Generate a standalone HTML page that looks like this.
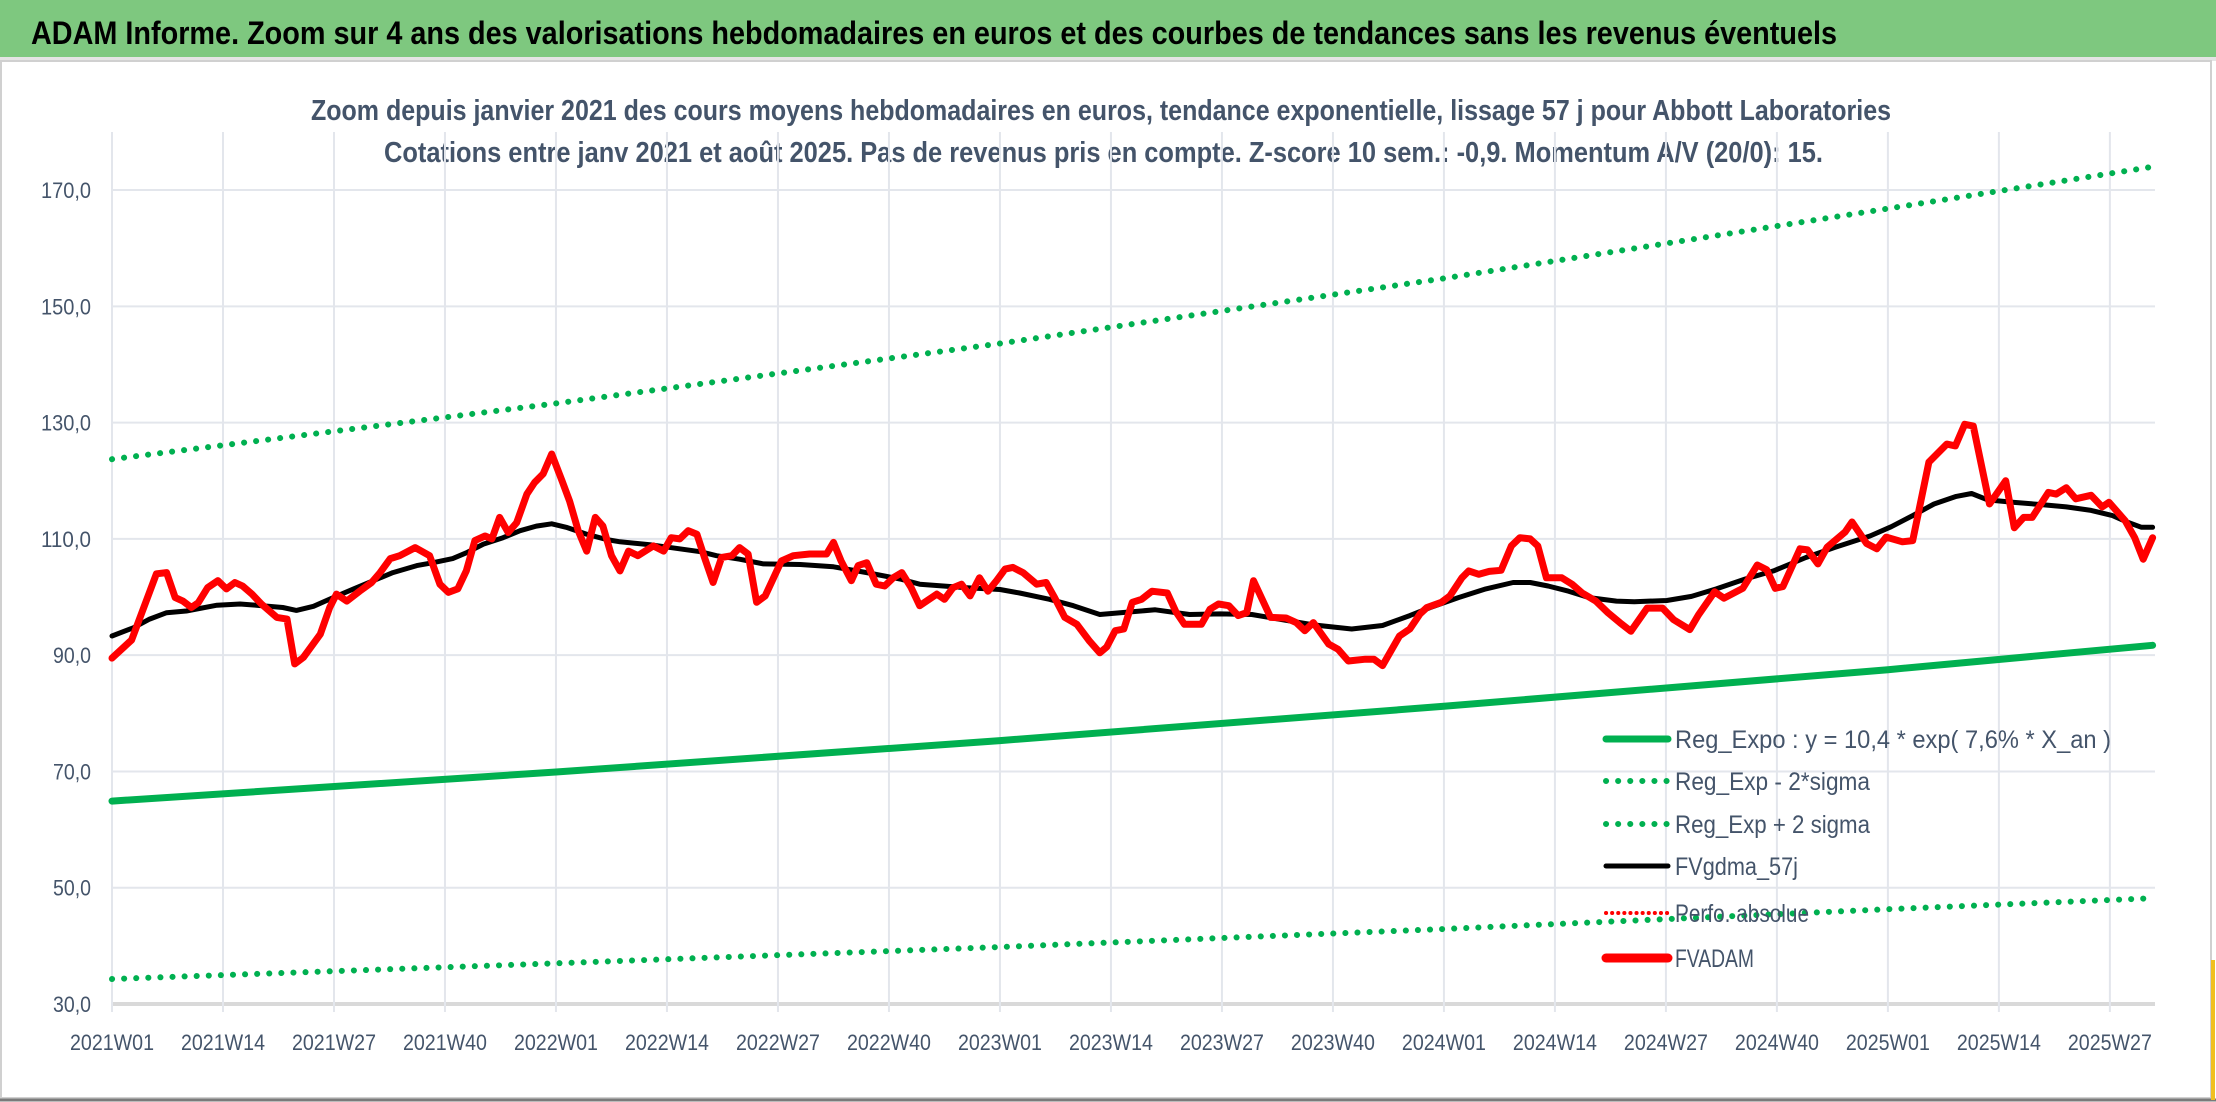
<!DOCTYPE html>
<html><head><meta charset="utf-8"><style>
html,body{margin:0;padding:0;background:#fff;}
svg{display:block;font-family:"Liberation Sans",sans-serif;}
</style></head><body>
<svg id="chart" width="2216" height="1102" viewBox="0 0 2216 1102" xmlns="http://www.w3.org/2000/svg">
<rect x="0" y="0" width="2216" height="1102" fill="#ffffff"/>
<rect x="0" y="0" width="2216" height="57" fill="#7ec87f"/>
<rect x="0" y="57" width="2216" height="4" fill="#e4e4e4"/>
<text x="31" y="44" font-size="32" font-weight="bold" fill="#000" textLength="1806" lengthAdjust="spacingAndGlyphs">ADAM Informe. Zoom sur 4 ans des valorisations hebdomadaires en euros et des courbes de tendances sans les revenus éventuels</text>
<rect x="1" y="61" width="2210" height="1037" fill="none" stroke="#d0d0d0" stroke-width="2"/>
<line x1="0" y1="1100" x2="2216" y2="1100" stroke="#7a7a7a" stroke-width="3"/>
<line x1="2213" y1="960" x2="2213" y2="1100" stroke="#f0c020" stroke-width="4"/>
<text x="311" y="120" font-size="29" font-weight="bold" fill="#44546a" textLength="1580" lengthAdjust="spacingAndGlyphs">Zoom depuis janvier 2021 des cours moyens hebdomadaires en euros, tendance exponentielle, lissage 57 j pour Abbott Laboratories</text>
<text x="384" y="162" font-size="29" font-weight="bold" fill="#44546a" textLength="1439" lengthAdjust="spacingAndGlyphs">Cotations entre janv 2021 et août 2025. Pas de revenus pris en compte. Z-score 10 sem.: -0,9. Momentum A/V (20/0): 15.</text>
<g id="grid"></g>
<g id="series"></g>
<g id="legend"></g>
</svg>
<script>
// ---- data ----
const tickLabels = ["2021W01","2021W14","2021W27","2021W40","2022W01","2022W14","2022W27","2022W40","2023W01","2023W14","2023W27","2023W40","2024W01","2024W14","2024W27","2024W40","2025W01","2025W14","2025W27"];
const yTicks = [30,50,70,90,110,130,150,170];
const yTickLabels = ["30,0","50,0","70,0","90,0","110,0","130,0","150,0","170,0"];
const trendWeeks = [0,52,104,156,208,239];
const regExpo = [64.9,69.9,75.3,81.2,87.5,91.7];
const regUpper = [123.7,133.3,143.6,154.8,166.8,174.0];
const regLower = [34.3,37.0,39.8,42.9,46.3,48.2];
const priceWeeks = [0,2.3,5.2,6.4,7.4,8.3,9.3,10.1,11.2,12.4,13.4,14.4,15.3,16.4,17.5,19.3,20.5,21.4,22.4,24.4,25.5,26.3,27.5,29,30.4,31.4,32.6,33.7,35.5,37.2,38.4,39.4,40.5,41.5,42.5,43.7,44.5,45.4,46.4,47.4,48.6,49.5,50.5,51.5,52.7,53.6,54.6,55.6,56.6,57.5,58.5,59.5,60.5,61.6,63.4,64.6,65.5,66.5,67.5,68.5,69.4,70.4,71.4,72.6,73.5,74.5,75.5,76.5,78.4,79.8,81.7,83.7,84.5,85.4,86.6,87.4,88.4,89.5,90.5,91.5,92.5,93.6,94.6,96.6,97.5,98.5,99.5,100.5,101.6,102.6,103.6,104.6,105.5,106.7,108.3,109.4,110.4,111.6,113,114.5,115.7,116.5,117.5,118.5,119.5,120.6,121.8,123.6,124.6,125.6,127.6,128.6,129.6,130.8,131.9,132.9,133.7,135.7,137.5,138.7,139.7,140.7,142.5,143.6,144.8,146.8,147.8,148.8,150.8,152,153.2,154,155.7,156.7,158.1,158.9,160.1,161.3,162.7,163.9,164.9,166.1,167,168,169.8,171,172.2,173.8,175.2,176.6,177.9,179.8,181.6,182.9,184.8,185.8,187.7,188.8,191,192.7,193.8,194.8,195.7,197.7,198.6,199.8,200.9,203,203.8,205.5,206.7,207.8,209.7,210.9,212.8,214.9,215.9,217,218,219.9,221.8,222.8,223.9,224.9,226.8,227.7,228.9,230,231.8,233.1,233.9,235.8,236.9,237.9,239];
const prices = [89.5,92.6,104,104.2,99.9,99.3,98.2,99,101.6,102.8,101.4,102.5,101.9,100.5,98.8,96.5,96.2,88.5,89.6,93.6,98.2,100.5,99.3,101,102.5,104.2,106.6,107.1,108.5,107.1,102.2,100.8,101.4,104.5,109.7,110.5,110,113.7,111.1,112.8,117.7,119.7,121.2,124.6,120,116.5,111.4,107.9,113.7,112.2,107.1,104.5,107.9,107.1,108.8,107.9,110.2,110,111.4,110.8,106.8,102.5,106.8,107.1,108.5,107.4,99.1,100.2,106.2,107.1,107.4,107.4,109.4,106.2,102.8,105.4,105.9,102.2,101.9,103.3,104.2,101.6,98.5,100.5,99.6,101.6,102.2,100.2,103.3,101,102.8,104.8,105.1,104.2,102.2,102.5,99.9,96.5,95.3,92.4,90.4,91.4,94.2,94.5,99.1,99.6,101,100.7,97.5,95.3,95.3,97.9,98.8,98.5,96.8,97.3,102.8,96.5,96.4,95.6,94.2,95.6,91.9,91,89,89.3,89.3,88.2,93.3,94.5,97.1,98.2,99.1,100.2,103.3,104.5,103.9,104.4,104.6,108.8,110.2,110,108.8,103.3,103.3,102.2,100.7,99.3,97.3,95.6,94.1,98.1,98.1,96.1,94.4,96.9,100.9,99.8,101.5,105.5,104.7,101.5,101.8,108.3,108.1,105.7,108.6,111.2,112.9,109.2,108.3,110.3,109.5,109.7,123.2,126.3,126,129.7,129.4,116,120,111.9,113.7,113.7,118,117.7,118.8,116.9,117.5,115.5,116.3,113.1,110.2,106.5,110.2];
const smoothWeeks = [0,2.5,4.4,6.4,8.7,12.3,15,16.9,20,21.6,23.6,25.9,28.3,30.6,32.9,35.7,37.6,39.9,41.5,43.5,45.8,47.8,49.7,51.5,53.2,55.6,57.9,59.5,63,66.9,68.9,70.8,73.5,76.3,80.6,84.5,88.4,92.3,94.6,100.1,104,106.3,109.8,112.6,115.7,118.1,122.2,126.2,129.8,133.5,136.7,140.7,145.2,148.8,152,154.4,157.7,160.9,164.1,166.1,168.2,170.6,173,176.2,178.3,182.1,185,187.9,191.3,194.6,198.4,201.7,205.9,208.4,210.9,213.4,216,217.8,219.7,222.6,226,228.9,231.8,234.3,236,237.7,239];
const smoothed = [93.3,94.7,96.2,97.3,97.6,98.6,98.8,98.6,98.2,97.7,98.4,99.9,101.4,102.8,104.2,105.4,105.9,106.6,107.6,109.1,110.2,111.4,112.2,112.6,112,110.8,109.9,109.5,109,108.2,107.8,107.1,106.5,105.7,105.6,105.2,104.2,103.1,102.2,101.6,101.3,100.7,99.6,98.5,97,97.3,97.8,97,97.1,97,96.2,95.2,94.5,95.1,96.8,98.2,99.9,101.4,102.5,102.5,101.9,101,99.9,99.3,99.2,99.4,100.1,101.4,103.1,104.5,106.8,108.5,110.5,112.1,114,116,117.3,117.8,116.7,116.3,115.9,115.5,114.9,114,112.9,112,112];

// ---- axes ----
const X0 = 112, PXW = 8.538, Y0 = 1004, PXV = 5.814, XR = 2155, YTOP = 132;
function xs(w){ return X0 + w * PXW; }
function ys(v){ return Y0 - (v - 30) * PXV; }
const NS = "http://www.w3.org/2000/svg";
function mk(tag, attrs, parent){ const e = document.createElementNS(NS, tag); for (const k in attrs) e.setAttribute(k, attrs[k]); parent.appendChild(e); return e; }

const grid = document.getElementById("grid");
yTicks.forEach((v, i) => {
  const ln = mk("line", {x1: X0, x2: XR, y1: ys(v), y2: ys(v), stroke: i === 0 ? "#d9d9d9" : "#e3e6ec", "stroke-width": i === 0 ? 4 : 2}, grid);
  
  
  const lw = yTickLabels[i].length === 5 ? 50 : 38;
  const t = mk("text", {x: 91, y: ys(v) + 8, "font-size": 22, fill: "#44546a", "text-anchor": "end", textLength: lw, lengthAdjust: "spacingAndGlyphs"}, grid);
  t.textContent = yTickLabels[i];
  
  
});
tickLabels.forEach((lab, i) => {
  const x = xs(i * 13);
  const ln = mk("line", {x1: x, x2: x, y1: YTOP, y2: Y0 + 8, stroke: "#e3e6ec", "stroke-width": 2}, grid);
  
  
  const t = mk("text", {x: x, y: 1050, "font-size": 22, fill: "#44546a", "text-anchor": "middle", textLength: 84, lengthAdjust: "spacingAndGlyphs"}, grid);
  t.textContent = lab;
  
  
});

// ---- series ----
const series = document.getElementById("series");
function pts(ws, vs){ return ws.map((w, i) => xs(w).toFixed(1) + "," + ys(vs[i]).toFixed(1)).join(" "); }
const lower = mk("polyline", {points: pts(trendWeeks, regLower), fill: "none", stroke: "#00b050", "stroke-width": 6, "stroke-linecap": "round", "stroke-dasharray": "0.1 12"}, series);


const upper = mk("polyline", {points: pts(trendWeeks, regUpper), fill: "none", stroke: "#00b050", "stroke-width": 6, "stroke-linecap": "round", "stroke-dasharray": "0.1 12"}, series);


const reg = mk("polyline", {points: pts(trendWeeks, regExpo), fill: "none", stroke: "#00b050", "stroke-width": 7, "stroke-linecap": "round"}, series);


const sm = mk("polyline", {points: pts(smoothWeeks, smoothed), fill: "none", stroke: "#000", "stroke-width": 5, "stroke-linejoin": "round", "stroke-linecap": "round"}, series);


const pr = mk("polyline", {points: pts(priceWeeks, prices), fill: "none", stroke: "#ff0000", "stroke-width": 7, "stroke-linejoin": "round", "stroke-linecap": "round"}, series);



// ---- legend ----
const legend = document.getElementById("legend");
const legendLabels = ["Reg_Expo : y = 10,4 * exp( 7,6% *  X_an )","Reg_Exp - 2*sigma","Reg_Exp + 2 sigma","FVgdma_57j","Perfo. absolue","FVADAM"];
const legendY = [739,781,824,866,913,958];
const legendColor = ["#00b050","#00b050","#00b050","#000000","#ff0000","#ff0000"];
const legendDash = ["", "0.1 12", "0.1 12", "", "0.1 6", ""];
const legendWidth = [7,6,6,5,4,9];
const legendTextLen = [436,195,195,123,134,79];
legendLabels.forEach((lab, i) => {
  const ln = mk("line", {x1: 1606, x2: 1668, y1: legendY[i], y2: legendY[i], stroke: legendColor[i], "stroke-width": legendWidth[i], "stroke-linecap": "round"}, legend);
  if (legendDash[i]) ln.setAttribute("stroke-dasharray", legendDash[i]);
  
  
  const t = mk("text", {x: 1675, y: legendY[i] + 9, "font-size": 25, fill: "#44546a", textLength: legendTextLen[i], lengthAdjust: "spacingAndGlyphs"}, legend);
  t.textContent = lab;
  
  
});
</script>
</body></html>
